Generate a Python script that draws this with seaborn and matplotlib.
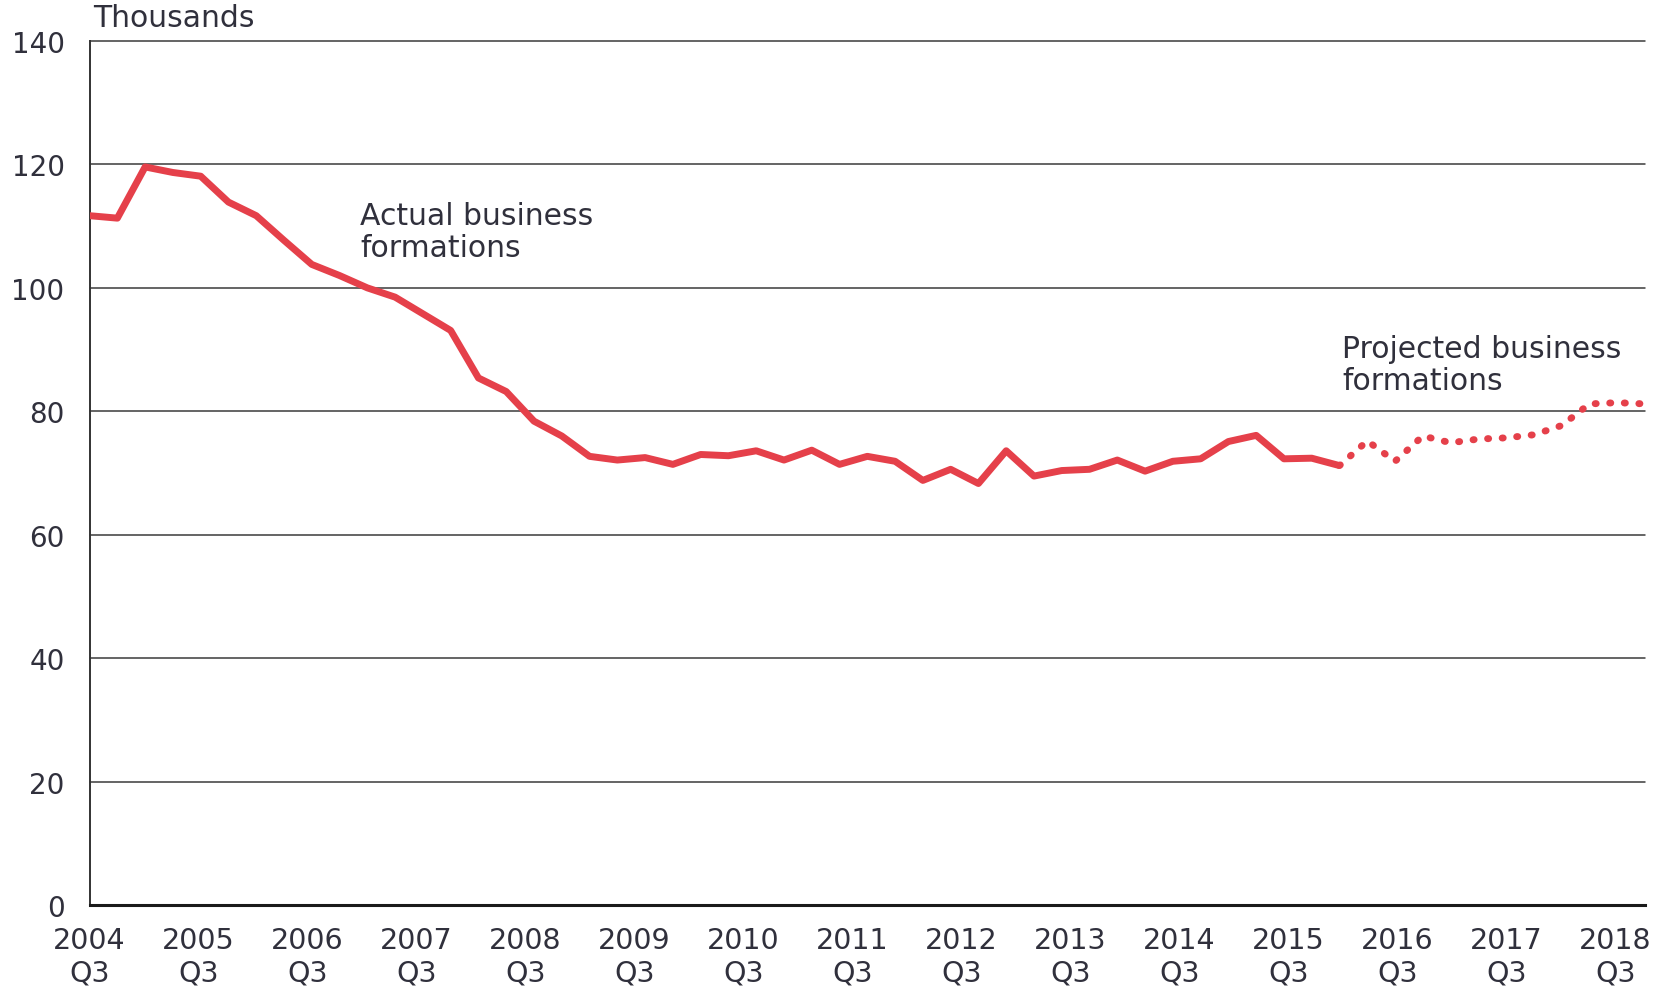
import numpy as np
import pandas as pd
import seaborn as sns
import matplotlib.pyplot as plt

# --- Data: business formations (thousands), quarterly from 2004 Q3 ---
actual_values = [111.7, 111.3, 119.6, 118.7, 118.1, 113.9, 111.7, 107.7, 103.8, 102.0,
                 100.0, 98.5, 95.8, 93.1, 85.4, 83.2, 78.4, 76.0, 72.7, 72.1,
                 72.5, 71.4, 73.0, 72.8, 73.6, 72.1, 73.7, 71.4, 72.7, 71.9,
                 68.8, 70.6, 68.3, 73.6, 69.5, 70.4, 70.6, 72.1, 70.3, 71.9,
                 72.3, 75.1, 76.1, 72.3, 72.4, 71.2]
# projection starts at the last actual quarter
projected_values = [71.2, 75.2, 71.9, 76.0, 74.9, 75.5, 75.7, 76.2, 77.7, 81.2, 81.4, 81.2]

tick_years = list(range(2004, 2019))
tick_labels = [f'{y}\nQ3' for y in tick_years]
y_ticks = [0, 20, 40, 60, 80, 100, 120, 140]

# --- Style ---
RED = '#E5404A'
TEXT = '#30303c'
GRID = '#3a3a3a'
TICK_STEP = 3.924  # year ticks in the original sit a touch closer than 4 quarters

n_act = len(actual_values)
actual_df = pd.DataFrame({'quarter': np.arange(n_act), 'value': actual_values})
proj_df = pd.DataFrame({'quarter': np.arange(n_act - 1, n_act - 1 + len(projected_values)),
                        'value': projected_values})

sns.set_theme(style='white')
plt.rcParams['font.family'] = ['DejaVu Sans']
plt.rcParams['text.color'] = TEXT

fig = plt.figure(figsize=(16.62, 9.87), dpi=100)
ax = fig.add_axes([0.0539, 0.0821, 0.9359, 0.8753])

sns.lineplot(data=actual_df, x='quarter', y='value', ax=ax, color=RED, linewidth=5,
             solid_joinstyle='round', solid_capstyle='butt', zorder=3)
sns.lineplot(data=proj_df, x='quarter', y='value', ax=ax, color=RED, linewidth=5,
             linestyle=(0, (0.15, 1.95)), dash_capstyle='round', zorder=3)

ax.set_xlim(0, n_act - 2 + len(projected_values))
ax.set_ylim(0, 140)
ax.set_xlabel('')
ax.set_ylabel('')

# y axis: gridlines, no tick marks
ax.set_yticks(y_ticks)
ax.set_yticklabels([str(v) for v in y_ticks])
ax.tick_params(axis='y', length=0, pad=18, labelsize=20, labelcolor=TEXT)
for v in y_ticks[1:]:
    ax.axhline(v, color=GRID, linewidth=1.1, zorder=1, clip_on=False)

# x axis: inward ticks once a year
ax.set_xticks(np.arange(len(tick_years)) * TICK_STEP)
ax.set_xticklabels(tick_labels, linespacing=1.2)
ax.tick_params(axis='x', direction='in', length=17, width=1.1, color='#333333',
               pad=15, labelsize=20.5, labelcolor=TEXT)

for side in ['top', 'right']:
    ax.spines[side].set_visible(False)
ax.spines['left'].set_color('#333333')
ax.spines['left'].set_linewidth(1.4)
ax.spines['bottom'].set_color('#1a1a1a')
ax.spines['bottom'].set_linewidth(2.2)

ax.text(9.74, 105.1, 'Actual business\nformations', fontsize=21.5, color=TEXT,
        va='baseline', ha='left', linespacing=1.15)
ax.text(45.1, 83.6, 'Projected business\nformations', fontsize=21.5, color=TEXT,
        va='baseline', ha='left', linespacing=1.15)
fig.text(93 / 1662, 1 - 27 / 987, 'Thousands', fontsize=21.5, color=TEXT,
         va='baseline', ha='left')

plt.savefig('out.png', dpi=100)
plt.close()
